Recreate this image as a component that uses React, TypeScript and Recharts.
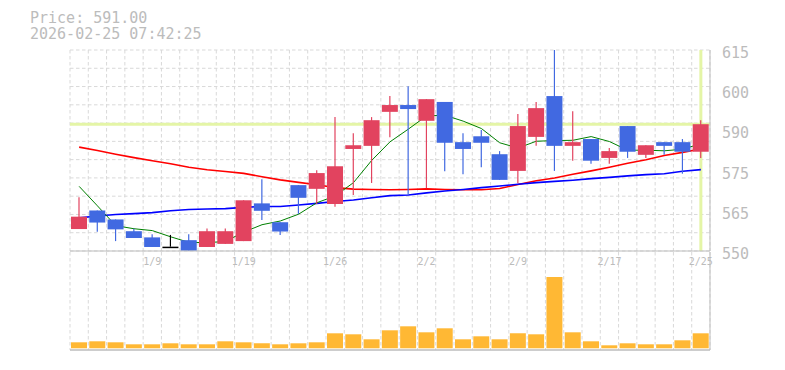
import React from "react"
import {
  ComposedChart,
  BarChart,
  Bar,
  Line,
  XAxis,
  YAxis,
  CartesianGrid,
  ReferenceLine,
} from "recharts"

// 日付
const dates = [
  "1/5", "1/6", "1/7", "1/8", "1/9", "1/13", "1/14", "1/15", "1/16", "1/19",
  "1/20", "1/21", "1/22", "1/23", "1/26", "1/27", "1/28", "1/29", "1/30", "2/2",
  "2/3", "2/4", "2/5", "2/6", "2/9", "2/10", "2/12", "2/13", "2/16", "2/17",
  "2/18", "2/19", "2/20", "2/24", "2/25",
]

// 四本値
const opens = [
  557.1, 563.1, 560.2, 556.4, 554.4, 551.4, 553.5, 551.3, 552.3, 553.2,
  565.4, 559.3, 571.3, 570.1, 565.2, 583.0, 584.0, 595.0, 597.2, 592.1,
  598.2, 585.2, 587.1, 581.3, 575.9, 586.9, 600.1, 584.0, 586.2, 580.1,
  590.4, 581.1, 585.2, 585.2, 582.1,
]
const highs = [
  567.4, 563.1, 560.2, 557.2, 555.4, 555.2, 555.4, 557.3, 557.3, 566.4,
  573.2, 559.3, 571.3, 576.1, 593.3, 588.1, 593.3, 600.1, 603.3, 599.1,
  598.2, 588.1, 589.1, 582.3, 594.3, 598.2, 615.0, 595.2, 586.2, 583.3,
  590.4, 584.2, 585.2, 586.2, 592.3,
]
const lows = [
  557.1, 556.2, 553.2, 554.2, 551.3, 551.4, 550.1, 551.3, 552.3, 553.2,
  560.0, 555.2, 562.0, 565.2, 564.3, 568.1, 572.0, 586.8, 568.1, 570.3,
  575.8, 574.8, 577.1, 573.0, 572.0, 584.0, 575.9, 579.2, 578.2, 578.2,
  580.1, 580.1, 581.1, 575.0, 580.1,
]
const closes = [
  561.1, 559.2, 557.0, 554.2, 551.3, 551.4, 550.1, 556.4, 556.4, 566.4,
  563.0, 556.3, 567.2, 575.2, 577.4, 584.2, 592.3, 597.2, 595.9, 599.1,
  585.0, 583.0, 585.0, 573.0, 590.4, 596.2, 584.0, 585.2, 579.2, 582.3,
  582.1, 584.2, 584.0, 582.1, 591.0,
]

// 移動平均
const ma5 = [
  570.9, 564.6, 558.2, 557.2, 556.6, 554.6, 552.8, 552.7, 553.1, 556.1,
  558.5, 559.7, 561.9, 565.6, 567.8, 572.1, 579.3, 585.3, 589.4, 593.7,
  593.9, 592.0, 589.6, 585.0, 583.3, 585.5, 585.7, 585.8, 587.0, 585.4,
  582.6, 582.6, 582.4, 582.9, 584.7,
]
const ma25 = [
  560.7, 561.3, 561.8, 562.1, 562.4, 563.0, 563.4, 563.6, 563.7, 564.1,
  564.4, 564.4, 564.9, 565.4, 566.0, 566.5, 567.2, 567.9, 568.1, 568.8,
  569.4, 569.9, 570.5, 571.0, 571.6, 572.1, 572.5, 572.9, 573.4, 573.8,
  574.3, 574.7, 575.0, 575.8, 576.3,
]
const ma75 = [
  583.6, 582.5, 581.3, 580.2, 579.2, 578.2, 577.1, 576.3, 575.7, 575.1,
  574.0, 573.0, 572.2, 571.4, 570.5, 570.0, 569.9, 569.8, 569.9, 570.1,
  569.9, 569.8, 569.8, 570.2, 571.5, 572.7, 573.6, 574.8, 575.9, 577.1,
  578.4, 579.5, 580.9, 581.9, 583.0,
]

// 出来高（千株）
const volumes = [
  60, 70, 60, 40, 40, 50, 40, 40, 70, 60,
  50, 40, 50, 60, 150, 140, 90, 180, 220, 160,
  200, 90, 120, 90, 150, 140, 713, 160, 70, 30,
  50, 40, 40, 80, 150,
]

const priceTicks = [550, 563, 576, 589, 602, 615]
const lastPrice = 591
const stamp = "2026-02-25 07:42:25"

const UP = "#e2435f"
const DOWN = "#4169e1"
const DOJI = "#000000"
const GRID = "#d9d9d9"
const AXIS = "#bdbdbd"
const LABEL = "#bcbcbc"
const MARK = "#e4f5a6"
const MONO = "'DejaVu Sans Mono', monospace"

const W = 785
const LEFT = 70
const AXIS_W = 75

const rows = dates.map((date, i) => ({
  date,
  open: opens[i],
  high: highs[i],
  low: lows[i],
  close: closes[i],
  range: [lows[i], highs[i]],
  ma5: ma5[i],
  ma25: ma25[i],
  ma75: ma75[i],
  volume: volumes[i],
}))

// ローソク足
const Candle = (props: any) => {
  const { x, y, width, height, payload } = props
  const top = Math.min(y, y + height)
  const h = Math.abs(height)
  const span = payload.high - payload.low
  const ratio = span > 0 ? h / span : 0
  const cx = x + width / 2
  const color = payload.close > payload.open ? UP : payload.close < payload.open ? DOWN : DOJI
  const bodyTop = top + (payload.high - Math.max(payload.open, payload.close)) * ratio
  const bodyBottom = top + (payload.high - Math.min(payload.open, payload.close)) * ratio
  const bodyH = Math.max(bodyBottom - bodyTop, 1.5)
  return (
    <g>
      <line x1={cx} x2={cx} y1={top} y2={top + h} stroke={color} strokeWidth={1.2} />
      <rect x={x} y={bodyTop} width={width} height={bodyH} fill={color} />
    </g>
  )
}

const PriceTick = ({ x, y, payload }: any) => (
  <text x={x} y={y} dx={3} dy={8} fill={LABEL} fontSize={15} fontFamily={MONO} textAnchor="start">
    {Math.round(payload.value / 5) * 5}
  </text>
)

const DateTick = ({ x, y, payload, index }: any) => {
  if (index % 5 !== 4) return <g />
  return (
    <text x={x} y={y} dy={6} fill={LABEL} fontSize={10} fontFamily={MONO} textAnchor="middle">
      {payload.value}
    </text>
  )
}

const hLines = ({ offset }: any) =>
  Array.from({ length: 12 }, (_, i) => offset.top + (i * offset.height) / 11)
const vLines = ({ offset }: any) =>
  Array.from({ length: 36 }, (_, i) => offset.left + (i * offset.width) / 35)

export default function App() {
  return (
    <div style={{ position: "absolute", left: 0, top: 0, width: W, height: 370, background: "#fff" }}>
      <div
        style={{
          position: "absolute",
          left: 30,
          top: 10,
          fontFamily: MONO,
          fontSize: 15,
          lineHeight: "16px",
          color: LABEL,
          whiteSpace: "pre",
        }}
      >
        {`Price: ${lastPrice.toFixed(2)}\n${stamp}`}
      </div>

      {/* 出来高 */}
      <div style={{ position: "absolute", left: 0, top: 0 }}>
        <BarChart
          width={W}
          height={370}
          data={rows}
          margin={{ top: 252, right: 0, bottom: 20, left: LEFT }}
          barSize={16}
        >
          <CartesianGrid
            stroke={GRID}
            strokeDasharray="3.5 2.5"
            horizontal={false}
            verticalCoordinatesGenerator={vLines}
          />
          <XAxis dataKey="date" hide />
          <YAxis
            orientation="right"
            width={AXIS_W}
            domain={[-17, 963]}
            tick={false}
            tickLine={false}
            stroke={AXIS}
          />
          <ReferenceLine y={-17} stroke={AXIS} strokeWidth={1.5} />
          <Bar dataKey="volume" fill="#ffb834" isAnimationActive={false} />
        </BarChart>
      </div>

      {/* 株価 */}
      <div style={{ position: "absolute", left: 0, top: 0 }}>
        <ComposedChart
          width={W}
          height={271}
          data={rows}
          margin={{ top: 50, right: 0, bottom: 0, left: LEFT }}
          barSize={16}
        >
          <CartesianGrid
            stroke={GRID}
            strokeDasharray="3.5 2.5"
            horizontalCoordinatesGenerator={hLines}
            verticalCoordinatesGenerator={vLines}
          />
          <XAxis
            dataKey="date"
            interval={0}
            height={20}
            tickLine={false}
            stroke={AXIS}
            tick={<DateTick />}
          />
          <YAxis
            orientation="right"
            width={AXIS_W}
            domain={[550, 615]}
            ticks={priceTicks}
            allowDataOverflow
            tickLine={false}
            tickSize={0}
            tickMargin={9}
            stroke={AXIS}
            tick={<PriceTick />}
          />
          <ReferenceLine y={lastPrice} stroke={MARK} strokeWidth={3} zIndex={50} />
          <ReferenceLine x="2/25" stroke={MARK} strokeWidth={3} zIndex={50} />
          <Line dataKey="ma75" stroke="#ff0000" strokeWidth={1.6} dot={false} isAnimationActive={false} zIndex={100} />
          <Line dataKey="ma25" stroke="#0000ff" strokeWidth={1.6} dot={false} isAnimationActive={false} zIndex={100} />
          <Line dataKey="ma5" stroke="#008000" strokeWidth={1} dot={false} isAnimationActive={false} zIndex={100} />
          <Bar dataKey="range" shape={<Candle />} isAnimationActive={false} zIndex={450} />
        </ComposedChart>
      </div>
    </div>
  )
}
